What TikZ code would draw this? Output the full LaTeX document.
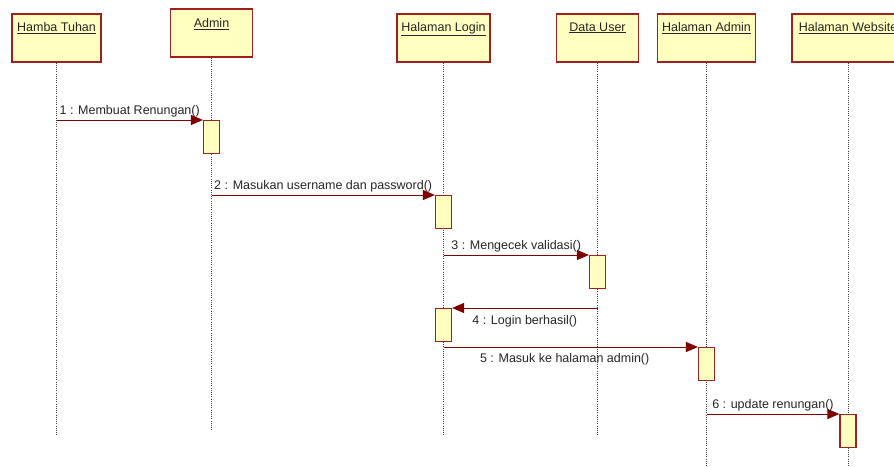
\documentclass[tikz,border=0pt]{standalone}
\usepackage{fontspec}
\setmainfont{Liberation Sans}
\usepackage{xcolor}
\usetikzlibrary{arrows.meta, positioning, calc}
\definecolor{boxred}{RGB}{160,32,32}
\definecolor{boxfill}{RGB}{255,255,192}
\definecolor{msgred}{RGB}{128,0,0}
\tikzstyle{object} = [rectangle, draw=boxred, fill=boxfill, line width=1.3pt, minimum height=48pt, inner sep=0pt]
\tikzstyle{title} = [anchor=north, inner sep=0pt, text=black!85]
\tikzstyle{lifeline} = [black!75, line width=0.8pt, dash pattern=on 1pt off 1.2pt]
\tikzstyle{activation} = [rectangle, draw=boxred, fill=boxfill, line width=1.2pt, minimum width=16pt, minimum height=33pt, inner sep=0pt, anchor=north]
\tikzstyle{msg} = [draw=msgred, line width=1pt, -{Triangle[length=12pt, width=10pt]}]
\tikzstyle{msglabel} = [text=black!85, inner sep=2pt]

\begin{document}
\begin{tikzpicture}[x=1pt, y=-1pt, font=\fontsize{12.5pt}{15pt}\selectfont]
\clip (0,0) rectangle (894,466);
\fill[white] (0,0) rectangle (894,466);
% objects
\node (hamba) [object, minimum width=89pt] at (56.5,38) {};
\node (admin) [object, minimum width=82pt] at (211.5,33) {};
\node (login) [object, minimum width=93pt] at (443.5,38) {};
\node (datauser) [object, minimum width=82pt] at (597.5,38) {};
\node (hadmin) [object, minimum width=98pt] at (706.5,38) {};
\node (website) [object, minimum width=112pt] at (848,38) {};
\node (hambaT) [title, below=9pt of hamba.north] {\underline{Hamba Tuhan}};
\node (adminT) [title, below=10pt of admin.north] {\underline{Admin}};
\node (loginT) [title, below=9pt of login.north] {\underline{Halaman Login}};
\node (datauserT) [title, below=9pt of datauser.north] {\underline{Data User}};
\node (hadminT) [title, below=9pt of hadmin.north] {\underline{Halaman Admin}};
\node (websiteT) [title, below=9pt of website.north] {\underline{Halaman Website}};

% lifelines
\coordinate (endA) at (0,431);
\coordinate (endB) at (0,436);
\coordinate (endC) at (0,466);
\draw [lifeline] (hamba.south) -- (hamba.south |- endB);
\draw [lifeline] (admin.south) -- (admin.south |- endA);
\draw [lifeline] (login.south) -- (login.south |- endB);
\draw [lifeline] (datauser.south) -- (datauser.south |- endB);
\draw [lifeline] (hadmin.south) -- (hadmin.south |- endC);
\draw [lifeline] (website.south) -- (website.south |- endC);

% activations
\node (act1) [activation] at (211.5,120) {};
\node (act2) [activation] at (443.5,195) {};
\node (act3) [activation] at (597.5,255) {};
\node (act4) [activation] at (443.5,308) {};
\node (act5) [activation] at (706.5,347) {};
\node (act6) [activation] at (848,414) {};

% messages
\draw [msg] (hamba.south |- act1.north) -- node[msglabel, above] {1 : Membuat Renungan()} (act1.north west);
\draw [msg] (admin.south |- act2.north) -- node[msglabel, above] {2 : Masukan username dan password()} (act2.north west);
\draw [msg] (login.south |- act3.north) -- node[msglabel, above] {3 : Mengecek validasi()} (act3.north west);
\draw [msg] (datauser.south |- act4.north) -- node[msglabel, below=5pt] {4 : Login berhasil()} (act4.north east);
\draw [msg] (login.south |- act5.north) -- node[msglabel, below=4pt, xshift=-6pt] {5 : Masuk ke halaman admin()} (act5.north west);
\draw [msg] (hadmin.south |- act6.north) -- node[msglabel, above] {6 : update renungan()} (act6.north west);
\end{tikzpicture}
\end{document}
